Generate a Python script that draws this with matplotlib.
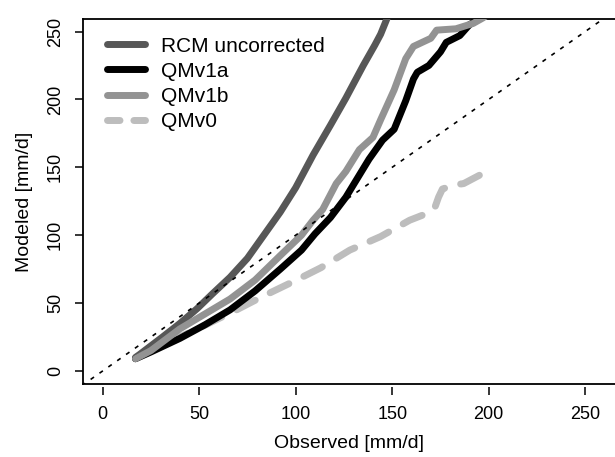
import matplotlib
matplotlib.use("Agg")
import matplotlib.pyplot as plt
from matplotlib.lines import Line2D

plt.rcParams['font.family'] = ['Liberation Sans', 'DejaVu Sans']

# quantile curves (observed vs modeled, mm/d)
rcm_x = [17, 19, 31, 40, 49, 57, 66, 75, 83, 92, 100, 109, 118, 126, 135, 141, 144, 148]
rcm_y = [10, 12, 25, 35, 46, 57, 69, 83, 99, 117, 135, 159, 181, 201, 225, 240, 248, 262]

qm1a_x = [17, 25, 40, 53, 66, 79, 92, 103, 110, 118, 126, 138, 145, 151, 157, 161, 163,
          169, 175, 178, 185, 190, 196, 200]
qm1a_y = [9, 14, 24, 34, 45, 59, 75, 89, 101, 113, 128, 156, 170, 178, 199, 215, 220,
          225, 235, 242, 247, 255, 260, 264]

qm1b_x = [17, 25, 40, 53, 66, 79, 92, 103, 109, 114, 121, 126, 133, 140, 144, 151, 157,
          161, 164, 170, 173, 183, 192, 197, 200]
qm1b_y = [9, 15, 31, 42, 53, 67, 85, 100, 111, 119, 138, 147, 163, 172, 185, 207, 230,
          239, 241, 245, 251, 252, 256, 260, 263]

qm0_x = [17, 25, 35, 43, 52, 68, 83, 99, 113, 128, 144, 159, 168, 172, 174, 176, 182,
         187, 195, 201]
qm0_y = [9, 15, 22, 27, 33, 44, 55, 66, 76, 89, 99, 111, 116, 120, 128, 134, 137,
         138, 144, 149]

labels = ["RCM uncorrected", "QMv1a", "QMv1b", "QMv0"]
colors = ["#575757", "#000000", "#939393", "#bdbdbd"]

xticks = [0, 50, 100, 150, 200, 250]
yticks = [0, 50, 100, 150, 200, 250]

fig = plt.figure(figsize=(6.15, 4.57), dpi=100)
ax = fig.add_axes([0.1355, 0.1597, 0.8645, 0.7987])

lw = 5.0
h1, = ax.plot(rcm_x, rcm_y, color=colors[0], lw=lw, solid_capstyle="round", zorder=3)
h2, = ax.plot(qm1a_x, qm1a_y, color=colors[1], lw=lw, solid_capstyle="round", zorder=4)
h3, = ax.plot(qm1b_x, qm1b_y, color=colors[2], lw=lw, solid_capstyle="round", zorder=5)
ax.plot(qm0_x, qm0_y, color=colors[3], lw=lw, dashes=(3.0, 2.4),
        dash_capstyle="round", zorder=2)
# 1:1 line on top
ax.plot([-20, 300], [-20, 300], color="black", lw=1.2, dashes=(2.5, 4), zorder=6)

ax.set_xlim(-10, 265.4)
ax.set_ylim(-9.6, 259.2)
ax.set_xticks(xticks)
ax.set_yticks(yticks)
ax.spines['right'].set_visible(False)
for s in ['left', 'top']:
    ax.spines[s].set_linewidth(1.3)
# R style: x ticks detached a little from the box line
ax.spines['bottom'].set_position(('outward', 2.5))
ax.spines['bottom'].set_visible(False)
ax.plot([0, 1], [0, 0], transform=ax.transAxes, color="black", lw=1.3,
        clip_on=False, zorder=7)

ax.tick_params(axis='both', direction='out', length=6, width=1.1, labelsize=13)
ax.tick_params(axis='x', pad=7)
ax.tick_params(axis='y', pad=8)
for t in ax.get_yticklabels():
    t.set_rotation(90)
    t.set_va('center')

ax.set_xlabel("Observed [mm/d]", fontsize=14, labelpad=9)
ax.set_ylabel("Modeled [mm/d]", fontsize=14, labelpad=10)

h4 = Line2D([], [], color=colors[3], lw=lw, dashes=(1.8, 2.0), dash_capstyle="round")
ax.legend([h1, h2, h3, h4], labels, loc="upper left", bbox_to_anchor=(0.045, 0.952),
          frameon=False, fontsize=15, handlelength=1.8, handletextpad=0.8,
          labelspacing=0.3, borderpad=0, borderaxespad=0)

fig.savefig("out.png", dpi=100)
